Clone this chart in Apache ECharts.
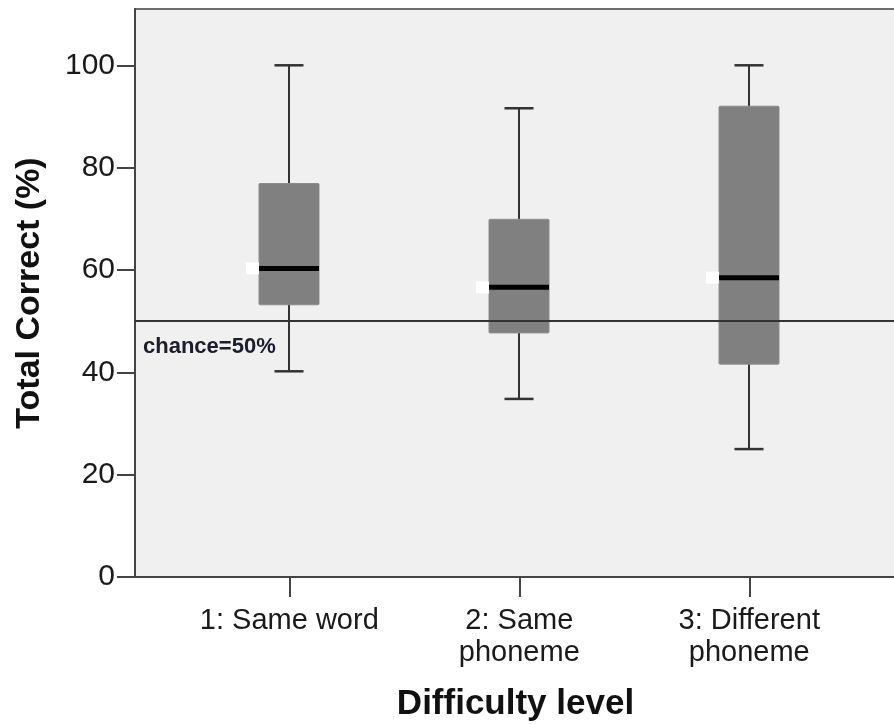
<!DOCTYPE html>
<html>
<head>
<meta charset="utf-8">
<script src="https://cdn.jsdelivr.net/npm/echarts@6/dist/echarts.min.js"></script>
<style>html,body{margin:0;padding:0;background:#fff}#c{width:894px;height:724px}</style>
</head>
<body>
<div id="c"></div>
<script>
// ---- data ----
var categories = ['1: Same word', '2: Same\nphoneme', '3: Different\nphoneme'];
var catPos = [1, 2, 3];
var whiskerMin = [40.2, 34.8, 25.0];
var q1 = [53.2, 47.7, 41.6];
var median = [60.3, 56.6, 58.5];
var q3 = [76.9, 69.9, 92.0];
var whiskerMax = [100, 91.6, 100];
var yTicks = [0, 20, 40, 60, 80, 100];
var chanceValue = 50;
var chanceLabel = 'chance=50%';
var xTitle = 'Difficulty level';
var yTitle = 'Total Correct (%)';

var boxData = catPos.map(function (x, i) {
  return [x, whiskerMin[i], q1[i], median[i], q3[i], whiskerMax[i]];
});

var chart = echarts.init(document.getElementById('c'), null, {renderer: 'canvas'});
var FONT = '"Liberation Sans", Arial, sans-serif';
var BOX_W = 60, CAP_W = 29, MARK_W = 13, MARK_H = 12;

function renderBox(params, api) {
  var x = api.value(0);
  var pMin = api.coord([x, api.value(1)]);
  var pQ1 = api.coord([x, api.value(2)]);
  var pMed = api.coord([x, api.value(3)]);
  var pQ3 = api.coord([x, api.value(4)]);
  var pMax = api.coord([x, api.value(5)]);
  var cx = Math.round(pMin[0]);
  var left = cx - BOX_W / 2;
  var stroke = {stroke: '#333333', lineWidth: 2};
  return {
    type: 'group',
    children: [
      {type: 'line', shape: {x1: cx, y1: pMin[1], x2: cx, y2: pMax[1]}, style: stroke},
      {type: 'line', shape: {x1: cx - CAP_W / 2, y1: pMin[1], x2: cx + CAP_W / 2, y2: pMin[1]}, style: {stroke: '#333333', lineWidth: 2.5}},
      {type: 'line', shape: {x1: cx - CAP_W / 2, y1: pMax[1], x2: cx + CAP_W / 2, y2: pMax[1]}, style: {stroke: '#333333', lineWidth: 2.5}},
      {type: 'rect', shape: {x: left, y: pQ3[1], width: BOX_W, height: pQ1[1] - pQ3[1], r: 1}, style: {fill: '#808080', stroke: '#8c8c8c', lineWidth: 1}},
      {type: 'line', shape: {x1: left, y1: pMed[1], x2: left + BOX_W, y2: pMed[1]}, style: {stroke: '#000000', lineWidth: 5}},
      {type: 'rect', shape: {x: left - MARK_W, y: pMed[1] - MARK_H / 2, width: MARK_W, height: MARK_H}, style: {fill: '#ffffff'}}
    ]
  };
}

chart.setOption({
  animation: false,
  backgroundColor: '#ffffff',
  grid: {left: 135, right: -2, top: 9, bottom: 147, outerBoundsMode: 'none', containLabel: false,
    show: true, backgroundColor: '#f0f0f0', borderColor: '#6e6e6e', borderWidth: 2},
  xAxis: {
    type: 'value', min: 0.329, max: 3.638,
    name: xTitle, nameLocation: 'middle', nameGap: 110,
    nameTextStyle: {fontFamily: FONT, fontSize: 35, fontWeight: 'bold', color: '#111'},
    axisLine: {show: true, lineStyle: {color: '#444', width: 2}},
    axisTick: {show: true, customValues: catPos, length: 20, lineStyle: {color: '#444', width: 2}},
    axisLabel: {customValues: catPos, margin: 28, fontFamily: FONT, fontSize: 29, lineHeight: 32, color: '#1a1a1a',
      formatter: function (v) { var i = catPos.indexOf(Math.round(v)); return i >= 0 ? categories[i] : ''; }},
    splitLine: {show: false}
  },
  yAxis: {
    type: 'value', min: 0, max: 111,
    name: yTitle, nameLocation: 'middle', nameGap: 88, nameRotate: 90,
    nameTextStyle: {fontFamily: FONT, fontSize: 34, fontWeight: 'bold', color: '#111'},
    axisLine: {show: true, lineStyle: {color: '#444', width: 2}},
    axisTick: {show: true, customValues: yTicks, length: 18, lineStyle: {color: '#444', width: 2}},
    axisLabel: {customValues: yTicks, margin: 20, fontFamily: FONT, fontSize: 30, color: '#1a1a1a'},
    splitLine: {show: false}
  },
  series: [
    {
      type: 'line', data: [], z: 1, silent: true,
      markLine: {
        silent: true, symbol: ['none', 'none'], animation: false,
        lineStyle: {color: '#333333', width: 1.8, type: 'solid'},
        label: {show: true, position: 'insideStartBottom', formatter: chanceLabel, distance: [8, 15],
          fontFamily: FONT, fontSize: 22, fontWeight: 'bold', color: '#1c1c2c'},
        emphasis: {disabled: true},
        data: [{yAxis: chanceValue}]
      }
    },
    {
      type: 'custom', z: 3, renderItem: renderBox, data: boxData,
      encode: {x: 0, y: [1, 2, 3, 4, 5]}
    }
  ]
});
</script>
</body>
</html>
